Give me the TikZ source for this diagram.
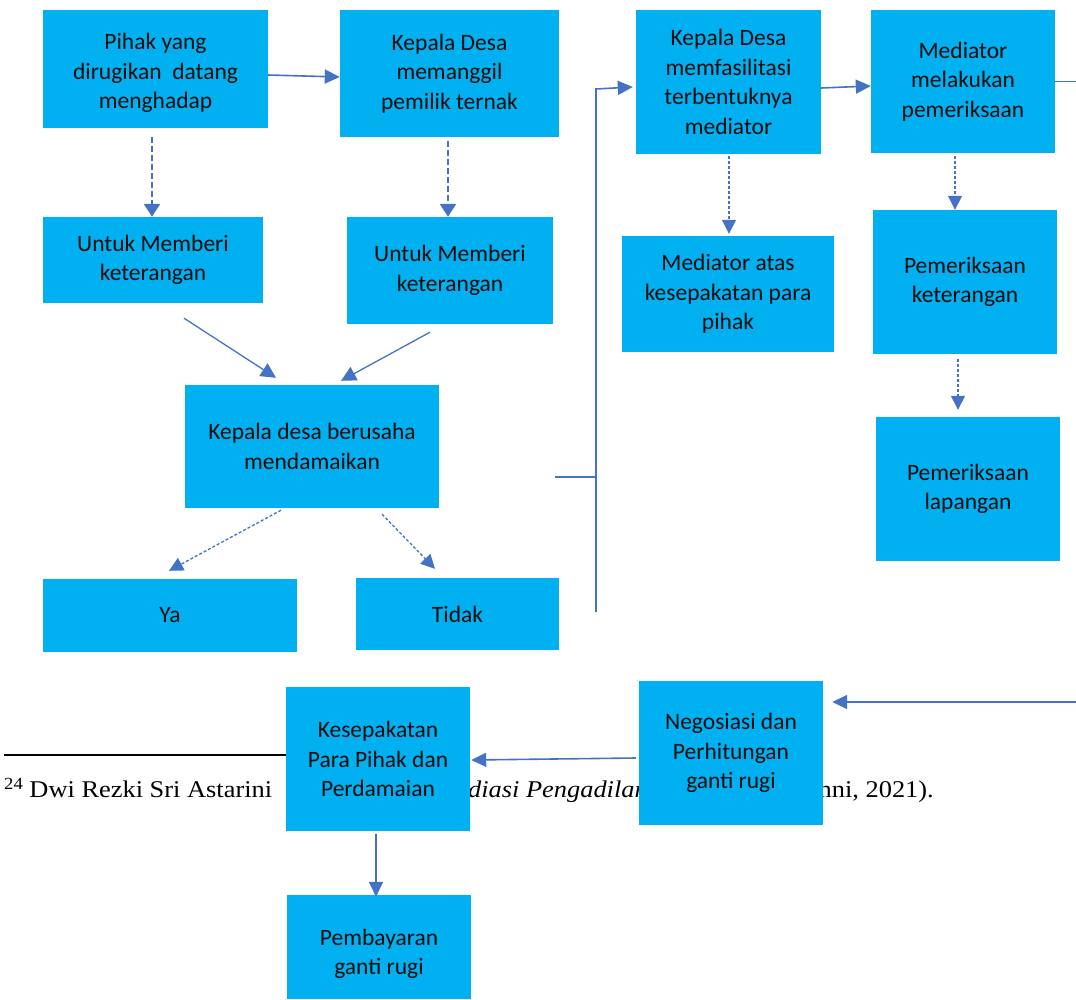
\documentclass[tikz,border=0pt]{standalone}
\usepackage{fontspec}
\setmainfont{Carlito}
\newfontfamily\fnfont[FakeStretch=1.1]{Liberation Serif}
\usetikzlibrary{arrows.meta,calc}
\definecolor{boxblue}{HTML}{00B0F0}
\definecolor{linkblue}{HTML}{4472C4}
\tikzset{
  bx/.style={rectangle, fill=boxblue, draw=none, align=center, inner sep=0pt,
    font=\fontsize{23.5}{29.5}\selectfont, text=black!95},
  bxtext/.style={align=center, inner sep=0pt, font=\fontsize{23.5}{29.5}\selectfont, text=black!95},
  fn/.style={inner sep=0pt, font=\fnfont\fontsize{24}{28}\selectfont},
  solidarrow/.style={draw=linkblue, line width=1.6pt, -{Triangle[length=15pt,width=14pt]}},
  thinarrow/.style={draw=linkblue, line width=1.3pt, -{Triangle[length=15pt,width=15pt]}},
  thickdash/.style={draw=linkblue, line width=2.6pt, dash pattern=on 6pt off 3pt, -{Triangle[length=13pt,width=16pt]}},
  thindash/.style={draw=linkblue, line width=1.3pt, dash pattern=on 3pt off 2pt, -{Triangle[length=14pt,width=14pt]}},
  plainline/.style={draw=linkblue, line width=1.6pt},
}
\begin{document}
\begin{tikzpicture}[x=1pt,y=-1pt]
\useasboundingbox (0,0) rectangle (1076,1000);
% footnote (behind boxes)
\draw[line width=1.8pt] (4,755) -- (290,755);
\node[fn, anchor=base west] (fn1) at (4,797) {\raisebox{8pt}{\fontsize{17}{17}\selectfont 24} Dwi Rezki Sri Astarini};
\node[fn, anchor=base east] (fn2) at (648,797) {\textit{Mediasi Pengadilan}};
\node[fn, anchor=base east] (fn3) at (934,797) {Alumni, 2021).};
% boxes
\node[bx, minimum width=225, minimum height=118] (b1) at (155.5,69) {};
\node[bxtext] (t1) at (155.5,73) {Pihak yang\\dirugikan\ \ datang\\menghadap};
\node[bx, minimum width=219, minimum height=127] (b2) at (449.5,73.5) {Kepala Desa\\memanggil\\pemilik ternak};
\node[bx, minimum width=220, minimum height=86] (b3) at (153,260) {Untuk Memberi\\keterangan};
\node[bx, minimum width=206, minimum height=107] (b4) at (450,270.5) {Untuk Memberi\\keterangan};
\node[bx, minimum width=254, minimum height=123] (b5) at (312,446.5) {Kepala desa berusaha\\mendamaikan};
\node[bx, minimum width=254, minimum height=73] (b6) at (170,615.5) {Ya};
\node[bx, minimum width=203, minimum height=72] (b7) at (457.5,614) {Tidak};
\node[bx, minimum width=185, minimum height=144] (b8) at (728.5,82) {Kepala Desa\\memfasilitasi\\terbentuknya\\mediator};
\node[bx, minimum width=184, minimum height=143] (b9) at (963,81.5) {Mediator\\melakukan\\pemeriksaan};
\node[bx, minimum width=212, minimum height=116] (b10) at (728,294) {Mediator atas\\kesepakatan para\\pihak};
\node[bx, minimum width=184, minimum height=144] (b11) at (965,282) {Pemeriksaan\\keterangan};
\node[bx, minimum width=184, minimum height=144] (b12) at (968,489) {Pemeriksaan\\lapangan};
\node[bx, minimum width=184, minimum height=144] (b13) at (731,753) {Negosiasi dan\\Perhitungan\\ganti rugi};
\node[bx, minimum width=184, minimum height=144] (b14) at (378,759) {Kesepakatan\\Para Pihak dan\\Perdamaian};
\node[bx, minimum width=184, minimum height=104] (b15) at (379,947) {};
\node[bxtext] (t15) at (379,954) {Pembayaran\\ganti rugi};
% free ends
\coordinate (hs) at (555,477);
\coordinate (hj) at (596,477);
\coordinate (vb) at (596,612);
\coordinate (vt) at (596,89);
\coordinate (re) at (1076,81.5);
\coordinate (rs) at (1076,702);
% connectors
\draw[solidarrow] ($(b1.east)+(0,6)$) -- ($(b2.west)+(0,3.5)$);
\draw[thickdash] ($(b1.south)+(-3.5,9)$) -- ($(b3.north)+(-1,0)$);
\draw[thickdash] ($(b2.south)+(-1.5,4)$) -- ($(b4.north)+(-2,0)$);
\draw[thinarrow] ($(b3.south)+(31,15)$) -- ($(b5.north)+(-36,-7)$);
\draw[thinarrow] ($(b4.south)+(-20,8)$) -- ($(b5.north)+(29,-4)$);
\draw[thindash] ($(b5.south)+(-31,2)$) -- ($(b6.north)+(-1,-8)$);
\draw[thindash] ($(b5.south)+(70,6)$) -- ($(b7.north)+(-22.5,-9)$);
\draw[plainline] (hs) -- (hj);
\draw[solidarrow] (vb) -- (vt) -- ($(b8.west)+(-3,5)$);
\draw[solidarrow] ($(b8.east)+(0,6)$) -- ($(b9.west)+(0,4.5)$);
\draw[plainline] (b9.east) -- (re);
\draw[thindash] ($(b8.south)+(0.5,2)$) -- ($(b10.north)+(1,-2)$);
\draw[thindash] ($(b9.south)+(-8,3)$) -- ($(b11.north)+(-10,0)$);
\draw[thindash] ($(b11.south)+(-7,5)$) -- ($(b12.north)+(-10,-7)$);
\draw[solidarrow] (rs) -- ($(b13.east)+(9,-51)$);
\draw[solidarrow] ($(b13.west)+(-3,5)$) -- ($(b14.east)+(1,1)$);
\draw[solidarrow] ($(b14.south)+(-2,3)$) -- ($(b15.north)+(-3,2)$);
\end{tikzpicture}
\end{document}
